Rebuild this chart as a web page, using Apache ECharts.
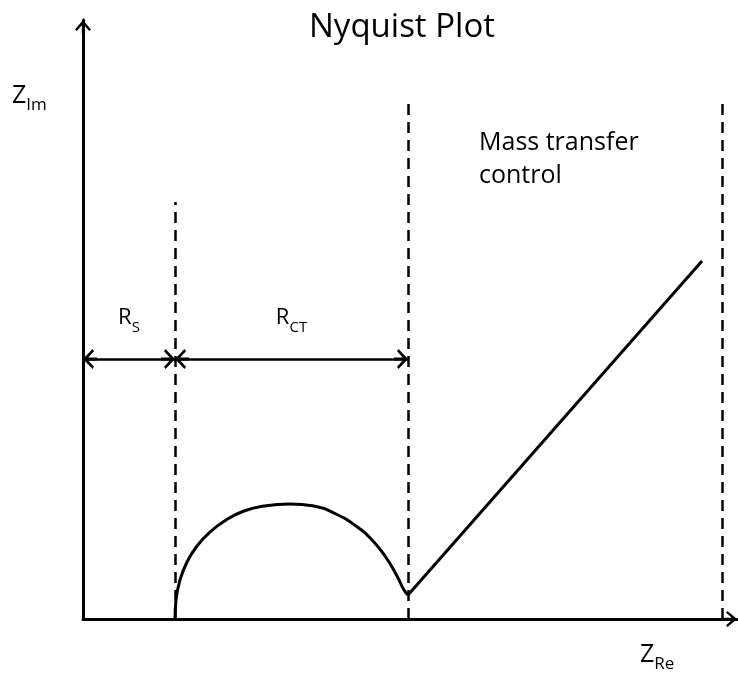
<!DOCTYPE html>
<html>
<head>
<meta charset="utf-8">
<title>Nyquist Plot</title>
<script src="https://cdn.jsdelivr.net/npm/echarts@6/dist/echarts.min.js"></script>
<style>
  html, body { margin: 0; padding: 0; background: #fff; }
  #chart { width: 738px; height: 673px; }
</style>
</head>
<body>
<div id="chart"></div>
<script>
// diagram units (x = Z_Re, y = Z_Im)
var axisMaxX = 654;
var axisMaxY = 599;

// semicircle (charge transfer region)
var arcX = [92, 93, 97, 104, 114, 127, 143, 161, 181, 207, 231, 253, 273, 290, 304, 314, 321, 325];
var arcY = [0, 19, 39, 57, 73, 87, 99, 108, 113, 115, 113, 105, 93, 78, 60, 43, 29, 24];

// Warburg tail (mass transfer)
var tailX = [325, 619];
var tailY = [24, 358];

// dashed boundaries: Rs, Rs+Rct, right end
var boundX = [92, 325, 639];
var boundTop = [417, 521, 521];

// resistance arrows
var arrowY = 260;
var rangeStart = [0, 92];
var rangeEnd = [92, 325];
var rangeNames = ['S', 'CT'];

var FONT = '"Open Sans", Lato, sans-serif';
// arrow head pointing up, with a short stem
var ARROW = 'path://M8 0 L16 9.5 L14.2 11 L9.2 5.2 L9.2 14 L6.8 14 L6.8 5.2 L1.8 11 L0 9.5 Z';

function pairs(xs, ys) {
    var out = [];
    for (var i = 0; i < xs.length; i++) {
        out.push([xs[i], ys[i]]);
    }
    return out;
}

var boundLines = [];
for (var i = 0; i < boundX.length; i++) {
    boundLines.push([{ coord: [boundX[i], 0] }, { coord: [boundX[i], boundTop[i]] }]);
}

var rangeLines = [];
for (var j = 0; j < rangeStart.length; j++) {
    rangeLines.push([
        { coord: [rangeStart[j], arrowY], label: { formatter: '{r|R}{s|' + rangeNames[j] + '}' } },
        { coord: [rangeEnd[j], arrowY] }
    ]);
}

var chart = echarts.init(document.getElementById('chart'));

var option = {
    animation: false,
    backgroundColor: '#fff',
    grid: { left: 83, right: 1, top: 20, bottom: 54 },
    xAxis: {
        type: 'value', min: 0, max: axisMaxX,
        axisLine: {
            show: true, onZero: false,
            symbol: ['none', ARROW], symbolSize: [16, 14], symbolOffset: [0, -7],
            lineStyle: { color: '#000', width: 3 }
        },
        axisTick: { show: false }, axisLabel: { show: false }, splitLine: { show: false }
    },
    yAxis: {
        type: 'value', min: 0, max: axisMaxY,
        axisLine: {
            show: true, onZero: false,
            symbol: ['none', ARROW], symbolSize: [16, 14], symbolOffset: [0, -7],
            lineStyle: { color: '#000', width: 3 }
        },
        axisTick: { show: false }, axisLabel: { show: false }, splitLine: { show: false }
    },
    series: [
        {
            name: 'arc', type: 'line', data: pairs(arcX, arcY),
            smooth: 0.5, symbol: 'none', silent: true,
            lineStyle: { color: '#000', width: 3 },
            markLine: {
                silent: true, symbol: ['none', 'none'], animation: false,
                label: { show: false },
                lineStyle: { color: '#000', width: 2.5, type: [11, 7] },
                data: boundLines
            }
        },
        {
            name: 'tail', type: 'line', data: pairs(tailX, tailY),
            symbol: 'none', silent: true,
            lineStyle: { color: '#000', width: 3 },
            markLine: {
                silent: true, animation: false,
                symbol: [ARROW, ARROW], symbolSize: [20, 14], symbolOffset: [[0, 7], [0, 7]],
                lineStyle: { color: '#000', width: 2.5, type: 'solid' },
                label: {
                    show: true, position: 'middle', distance: 24,
                    rich: {
                        r: { fontFamily: FONT, fontSize: 22, color: '#000', lineHeight: 34 },
                        s: { fontFamily: FONT, fontSize: 15, color: '#000', lineHeight: 34, verticalAlign: 'bottom' }
                    }
                },
                data: rangeLines
            }
        }
    ],
    graphic: [
        {
            type: 'text', x: 402, y: 28, silent: true,
            style: { text: 'Nyquist Plot', font: '33px ' + FONT, fill: '#000', align: 'center', verticalAlign: 'middle' }
        },
        {
            type: 'text', x: 12, y: 78, silent: true,
            style: {
                text: '{z|Z}{i|Im}', fill: '#000',
                rich: {
                    z: { fontFamily: FONT, fontSize: 25, lineHeight: 36 },
                    i: { fontFamily: FONT, fontSize: 17, lineHeight: 36, verticalAlign: 'bottom' }
                }
            }
        },
        {
            type: 'text', x: 640, y: 637, silent: true,
            style: {
                text: '{z|Z}{i|Re}', fill: '#000',
                rich: {
                    z: { fontFamily: FONT, fontSize: 25, lineHeight: 36 },
                    i: { fontFamily: FONT, fontSize: 17, lineHeight: 36, verticalAlign: 'bottom' }
                }
            }
        },
        {
            type: 'text', x: 479, y: 126, silent: true,
            style: {
                text: 'Mass transfer\ncontrol', fill: '#000',
                font: '25px ' + FONT, lineHeight: 33
            }
        }
    ]
};

chart.setOption(option);
</script>
</body>
</html>
